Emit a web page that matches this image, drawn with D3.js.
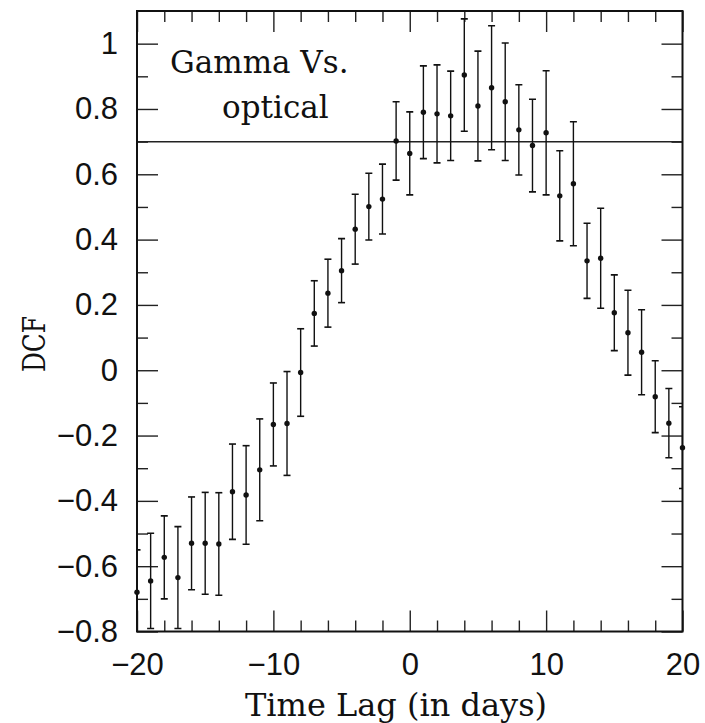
<!DOCTYPE html>
<html>
<head>
<meta charset="utf-8">
<script src="https://cdn.jsdelivr.net/npm/d3@7"></script>
<style>
  html, body { margin: 0; padding: 0; background: #fff; }
  svg { display: block; }
</style>
</head>
<body>
<svg id="chart" width="705" height="723"></svg>
<script>
// Discrete correlation function, gamma-ray vs optical light curves
const lags = [-20, -19, -18, -17, -16, -15, -14, -13, -12, -11, -10,
              -9, -8, -7, -6, -5, -4, -3, -2, -1, 0,
              1, 2, 3, 4, 5, 6, 7, 8, 9, 10,
              11, 12, 13, 14, 15, 16, 17, 18, 19, 20];
const dcf = [-0.680, -0.645, -0.573, -0.635, -0.530, -0.530, -0.532, -0.372, -0.382, -0.305, -0.166,
             -0.163, -0.007, 0.174, 0.236, 0.305, 0.432, 0.501, 0.524, 0.702, 0.664,
             0.790, 0.785, 0.779, 0.904, 0.809, 0.865, 0.822, 0.736, 0.688, 0.727,
             0.534, 0.571, 0.335, 0.343, 0.176, 0.115, 0.055, -0.081, -0.162, -0.237];
const dcfErr = [0.130, 0.146, 0.127, 0.156, 0.142, 0.156, 0.157, 0.146, 0.151, 0.156, 0.127,
                0.159, 0.134, 0.100, 0.104, 0.098, 0.107, 0.102, 0.107, 0.120, 0.127,
                0.142, 0.150, 0.137, 0.172, 0.168, 0.190, 0.180, 0.138, 0.142, 0.190,
                0.138, 0.190, 0.115, 0.153, 0.116, 0.130, 0.130, 0.110, 0.106, 0.125];

const xMajorTicks = [-20, -10, 0, 10, 20];
const xMinorTicks = [-18, -16, -14, -12, -8, -6, -4, -2, 2, 4, 6, 8, 12, 14, 16, 18];
const yMajorTicks = [-0.8, -0.6, -0.4, -0.2, 0, 0.2, 0.4, 0.6, 0.8, 1];
const yMinorTicks = [-0.7, -0.5, -0.3, -0.1, 0.1, 0.3, 0.5, 0.7, 0.9];
const referenceLevel = 0.7;
const titleLines = ["Gamma Vs.", "optical"];
const xLabel = "Time Lag (in days)";
const yLabel = "DCF";

const plotLeft = 137, plotRight = 682.5, plotTop = 11, plotBottom = 631.5;
const svg = d3.select("#chart");

const x = d3.scaleLinear().domain([-20, 20]).range([plotLeft, plotRight]);
const y = d3.scaleLinear().domain([-0.8, 1.1]).range([plotBottom, plotTop]);

const tickFont = "'Liberation Sans', Arial, sans-serif";
const labelFont = "'DejaVu Serif', serif";
const inkColor = "#111";

svg.append("defs").append("clipPath").attr("id", "plot-clip")
  .append("rect")
  .attr("x", plotLeft).attr("y", plotTop)
  .attr("width", plotRight - plotLeft).attr("height", plotBottom - plotTop);

// Tick marks on all four sides, pointing inward
function styleAxis(g) {
  g.select(".domain").remove();
  g.selectAll(".tick line").attr("stroke", "#222").attr("stroke-width", 1.4);
  g.selectAll(".tick text")
    .attr("fill", inkColor)
    .attr("font-family", tickFont)
    .attr("font-size", 31);
}
const fmt = d => d === 0 ? "0" : d3.format("~g")(d);

svg.append("g").attr("transform", `translate(0,${plotBottom})`)
  .call(d3.axisBottom(x).tickValues(xMajorTicks).tickSize(-21).tickPadding(21).tickFormat(fmt))
  .call(styleAxis);
svg.append("g").attr("transform", `translate(0,${plotBottom})`)
  .call(d3.axisBottom(x).tickValues(xMinorTicks).tickSize(-11).tickFormat(""))
  .call(styleAxis);
svg.append("g").attr("transform", `translate(0,${plotTop})`)
  .call(d3.axisTop(x).tickValues(xMajorTicks).tickSize(-21).tickFormat(""))
  .call(styleAxis);
svg.append("g").attr("transform", `translate(0,${plotTop})`)
  .call(d3.axisTop(x).tickValues(xMinorTicks).tickSize(-11).tickFormat(""))
  .call(styleAxis);

svg.append("g").attr("transform", `translate(${plotLeft},0)`)
  .call(d3.axisLeft(y).tickValues(yMajorTicks).tickSize(-21).tickPadding(19).tickFormat(fmt))
  .call(styleAxis);
svg.append("g").attr("transform", `translate(${plotLeft},0)`)
  .call(d3.axisLeft(y).tickValues(yMinorTicks).tickSize(-11).tickFormat(""))
  .call(styleAxis);
svg.append("g").attr("transform", `translate(${plotRight},0)`)
  .call(d3.axisRight(y).tickValues(yMajorTicks).tickSize(-21).tickFormat(""))
  .call(styleAxis);
svg.append("g").attr("transform", `translate(${plotRight},0)`)
  .call(d3.axisRight(y).tickValues(yMinorTicks).tickSize(-11).tickFormat(""))
  .call(styleAxis);

// Horizontal reference level
svg.append("line")
  .attr("x1", plotLeft).attr("x2", plotRight)
  .attr("y1", y(referenceLevel)).attr("y2", y(referenceLevel))
  .attr("stroke", "#222").attr("stroke-width", 1.5);

// Error bars (clipped to the frame) and points
const points = lags.map((lag, i) => ({ lag, v: dcf[i], e: dcfErr[i] }));
const barLayer = svg.append("g").attr("clip-path", "url(#plot-clip)");
const capHalf = 3.5;

const bars = barLayer.selectAll("g.pt").data(points).join("g").attr("class", "pt");
bars.append("line")
  .attr("x1", d => x(d.lag)).attr("x2", d => x(d.lag))
  .attr("y1", d => y(d.v + d.e)).attr("y2", d => y(d.v - d.e))
  .attr("stroke", inkColor).attr("stroke-width", 1.4);
bars.append("line")
  .attr("x1", d => x(d.lag) - capHalf).attr("x2", d => x(d.lag) + capHalf)
  .attr("y1", d => y(d.v + d.e)).attr("y2", d => y(d.v + d.e))
  .attr("stroke", inkColor).attr("stroke-width", 1.6);
bars.append("line")
  .attr("x1", d => x(d.lag) - capHalf).attr("x2", d => x(d.lag) + capHalf)
  .attr("y1", d => y(d.v - d.e)).attr("y2", d => y(d.v - d.e))
  .attr("stroke", inkColor).attr("stroke-width", 1.6);

// Frame
svg.append("rect")
  .attr("x", plotLeft).attr("y", plotTop)
  .attr("width", plotRight - plotLeft).attr("height", plotBottom - plotTop)
  .attr("fill", "none").attr("stroke", inkColor).attr("stroke-width", 2);

svg.append("g").selectAll("circle").data(points).join("circle")
  .attr("cx", d => x(d.lag)).attr("cy", d => y(d.v))
  .attr("r", 2.7).attr("fill", inkColor);

// Annotation
svg.append("text")
  .attr("x", 170).attr("y", 73)
  .attr("font-family", labelFont).attr("font-size", 31)
  .attr("fill", inkColor)
  .text(titleLines[0]);
svg.append("text")
  .attr("x", 222).attr("y", 118)
  .attr("font-family", labelFont).attr("font-size", 31)
  .attr("fill", inkColor)
  .text(titleLines[1]);

// Axis titles
svg.append("text")
  .attr("x", 245).attr("y", 716)
  .attr("font-family", labelFont).attr("font-size", 32)
  .attr("fill", inkColor)
  .text(xLabel);
svg.append("text")
  .attr("transform", "translate(45,344) rotate(-90)")
  .attr("text-anchor", "middle")
  .attr("font-family", labelFont).attr("font-size", 31)
  .attr("textLength", 56).attr("lengthAdjust", "spacingAndGlyphs")
  .attr("fill", inkColor)
  .text(yLabel);
</script>
</body>
</html>
